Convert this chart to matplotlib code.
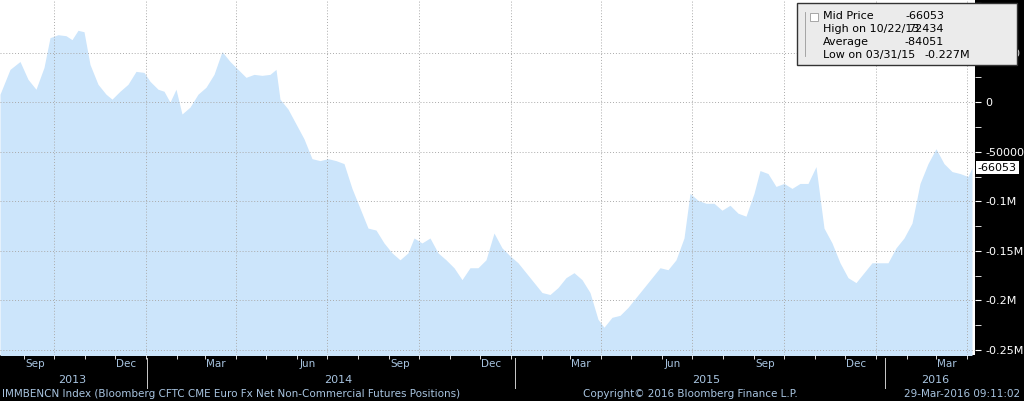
import matplotlib
matplotlib.use('Agg')
import matplotlib.pyplot as plt
import matplotlib.dates as mdates
import matplotlib.ticker as mticker
from matplotlib.patches import Rectangle
import numpy as np
import datetime as dt

start = dt.date(2013, 8, 8)
day_offsets = [0, 10, 20, 28, 36, 44, 50, 58, 66, 72, 78, 84, 90, 98, 106, 112, 120, 128, 136, 144,
               150, 158, 164, 170, 176, 182, 190, 198, 206, 214, 222, 230, 238, 246, 254, 262, 270, 276, 280, 288,
               296, 304, 312, 320, 328, 336, 344, 352, 360, 368, 376, 384, 392, 400, 408, 414, 422, 430, 438, 446,
               454, 462, 470, 478, 486, 494, 502, 510, 518, 526, 534, 542, 550, 558, 566, 574, 582, 590, 598, 604,
               612, 620, 628, 636, 644, 652, 660, 668, 676, 684, 690, 698, 706, 714, 722, 730, 738, 746, 754, 760,
               768, 776, 784, 792, 800, 808, 816, 824, 832, 840, 848, 856, 864, 872, 880, 888, 896, 904, 912, 920,
               928, 936, 944, 952, 960, 968, 972]
positions = [8000, 33000, 41000, 23000, 13000, 35000, 65000, 68000, 67000, 63000, 72434, 71000, 38000, 18000, 8000, 3000, 11000, 18000, 31000, 30000,
             21000, 13000, 11000, 0, 13000, -12000, -5000, 8000, 15000, 28000, 51000, 41000, 33000, 25000, 28000, 27000, 28000, 33000, 3000, -7000,
             -22000, -37000, -57000, -59000, -57000, -59000, -62000, -87000, -107000, -127000, -129000, -142000, -152000, -159000, -152000, -137000, -142000, -137000, -152000, -159000,
             -167000, -179000, -167000, -167000, -159000, -132000, -147000, -155000, -162000, -172000, -182000, -192000, -194000, -187000, -177000, -172000, -179000, -192000, -219000, -227000,
             -217000, -215000, -207000, -197000, -187000, -177000, -167000, -169000, -159000, -137000, -92000, -99000, -102000, -102000, -109000, -104000, -112000, -115000, -92000, -69000,
             -72000, -85000, -82000, -87000, -82000, -82000, -65000, -127000, -142000, -162000, -177000, -182000, -172000, -162000, -162000, -162000, -147000, -137000, -122000, -82000,
             -62000, -47000, -62000, -70000, -72000, -75000, -66053]
dates = [start + dt.timedelta(days=d) for d in day_offsets]

legend_labels = ["Mid Price", "High on 10/22/13", "Average", "Low on 03/31/15"]
legend_values = ["-66053", "72434", "-84051", "-0.227M"]
years = ["2013", "2014", "2015", "2016"]
year_x = [72, 338, 706, 935]
footer_left = "IMMBENCN Index (Bloomberg CFTC CME Euro Fx Net Non-Commercial Futures Positions)"
footer_mid = "Copyright\u00a9 2016 Bloomberg Finance L.P."
footer_right = "29-Mar-2016 09:11:02"

W, H = 1024, 401
fig = plt.figure(figsize=(10.24, 4.01), dpi=100, facecolor='black')
ax = fig.add_axes([0, 1 - 355 / H, 975 / W, 355 / H])
ax.set_facecolor('white')
ax.fill_between(dates, positions, -300000, color='#cce5fb', lw=0)
ax.set_ylim(-255000, 103000)
ax.set_xlim(start, start + dt.timedelta(days=975))

def yfmt(v, _):
    if v == 0:
        return '0'
    if v > 60000:
        return ''
    if abs(v) >= 100000:
        return f'{v / 1e6:g}M'
    return f'{int(v)}'

ax.yaxis.tick_right()
ax.yaxis.set_major_locator(mticker.MultipleLocator(50000))
ax.yaxis.set_minor_locator(mticker.MultipleLocator(25000))
ax.yaxis.set_major_formatter(mticker.FuncFormatter(yfmt))
ax.tick_params(axis='y', colors='white', labelsize=8, length=4, which='both')
ax.xaxis.set_major_locator(mdates.MonthLocator(bymonth=[9, 12, 3, 6], bymonthday=12))
ax.xaxis.set_major_formatter(mdates.DateFormatter('%b'))
ax.xaxis.set_minor_locator(mdates.MonthLocator())
ax.tick_params(axis='x', which='major', length=0, colors='#a8c4e0', labelsize=7.5, pad=3)
ax.tick_params(axis='x', which='minor', length=3, color='white')
for s in ax.spines.values():
    s.set_visible(False)

for v in np.arange(-250000, 100000, 50000):
    ax.axhline(v, color='#aaaaaa', lw=0.7, ls=(0, (1, 2)))
for y in (2013, 2014, 2015, 2016):
    for m in (1, 4, 7, 10):
        d = dt.date(y, m, 1)
        if start < d < start + dt.timedelta(days=975):
            ax.axvline(d, color='#aaaaaa', lw=0.7, ls=(0, (1, 2)))

ax.annotate('-66053', xy=(1.003, (positions[-1] + 255000) / 358000), xycoords='axes fraction',
            fontsize=8, color='black', va='center', ha='left',
            bbox=dict(boxstyle='square,pad=0.15', fc='white', ec='none'))

# legend box, figure pixel coordinates
fig.add_artist(Rectangle((797 / W, 1 - 65 / H), 220 / W, 62 / H, transform=fig.transFigure,
                         fc='#ebebeb', ec='#333333', lw=1, zorder=5))
for i, (lbl, val) in enumerate(zip(legend_labels, legend_values)):
    yy = 1 - (16 + i * 13) / H
    fig.text(823 / W, yy, lbl, fontsize=8, ha='left', va='center', zorder=6)
    fig.text((970 if i == 3 else 944) / W, yy, val, fontsize=8, ha='right', va='center', zorder=6)
fig.add_artist(Rectangle((810 / W, 1 - 21 / H), 8 / W, 8 / H, transform=fig.transFigure,
                         fc='white', ec='#999999', lw=0.6, zorder=6))
fig.add_artist(plt.Line2D([805 / W] * 2, [1 - 12 / H, 1 - 56 / H], color='#999999', lw=0.6, zorder=6))

# year labels and separators
for lbl, xp in zip(years, year_x):
    fig.text(xp / W, 1 - 380 / H, lbl, color='#a8c4e0', fontsize=8, ha='center', va='center')
for xp in (147, 515, 885):
    fig.add_artist(plt.Line2D([xp / W] * 2, [1 - 358 / H, 1 - 388 / H], color='#cccccc', lw=0.7))
fig.text(2 / W, 1 - 394 / H, footer_left, color='#a8c4e0', fontsize=7.5, ha='left', va='center')
fig.text(690 / W, 1 - 394 / H, footer_mid, color='#a8c4e0', fontsize=7.5, ha='center', va='center')
fig.text(1020 / W, 1 - 394 / H, footer_right, color='#a8c4e0', fontsize=7.5, ha='right', va='center')

fig.savefig('out.png', dpi=100, facecolor='black')
